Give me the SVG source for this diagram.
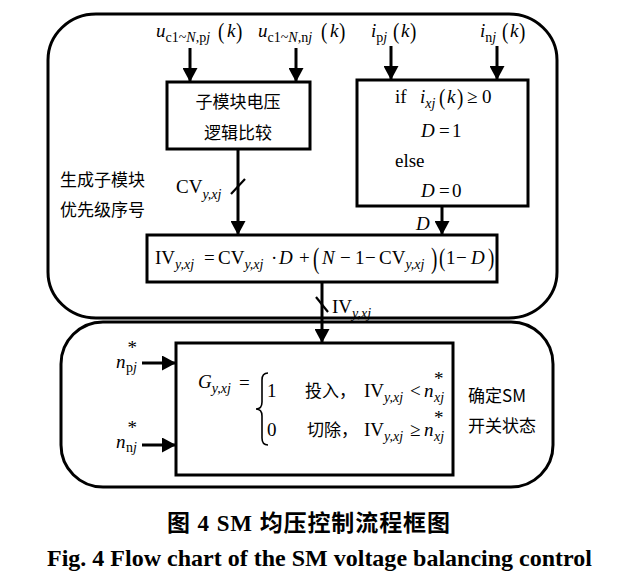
<svg xmlns="http://www.w3.org/2000/svg" width="629" height="582" viewBox="0 0 629 582">
<defs>
<marker id="ah" markerUnits="userSpaceOnUse" markerWidth="15" markerHeight="15" refX="14" refY="7.5" orient="auto" viewBox="0 0 15 15">
<path d="M0,0 L14,7.5 L0,15 z" fill="#000"/>
</marker>
<style>
.t{font-family:"Liberation Serif","Noto Sans CJK SC",serif;font-size:19px;fill:#000}
.c{font-family:"Noto Sans CJK SC",sans-serif;font-size:17px;fill:#000}
.i{font-style:italic}
.s{font-size:14px}
.box{fill:#fff;stroke:#000;stroke-width:3}
.outer{fill:none;stroke:#000;stroke-width:3}
.arr{stroke:#000;stroke-width:3;fill:none;marker-end:url(#ah)}
.sl{stroke:#000;stroke-width:2.2}
</style>
</defs>
<rect width="629" height="582" fill="#fff"/>

<g id="outer-top"><rect class="outer" x="48" y="14" width="509" height="304" rx="48" ry="46"/></g>
<g id="outer-bottom"><rect class="outer" x="61" y="322" width="492" height="165" rx="42" ry="42"/></g>

<g id="connectors">
<line class="arr" x1="190" y1="48" x2="190" y2="82"/>
<line class="arr" x1="296" y1="48" x2="296" y2="82"/>
<line class="arr" x1="391" y1="46" x2="391" y2="80"/>
<line class="arr" x1="497" y1="46" x2="497" y2="80"/>
<line class="arr" x1="238" y1="149" x2="238" y2="235"/>
<line class="sl" x1="231" y1="194" x2="245" y2="179"/>
<line class="arr" x1="442" y1="206" x2="442" y2="235"/>
<line class="arr" x1="322" y1="282" x2="322" y2="343"/>
<line class="sl" x1="316" y1="297" x2="328" y2="312"/>
<line class="arr" x1="142" y1="363" x2="176" y2="363"/>
<line class="arr" x1="142" y1="445" x2="176" y2="445"/>
</g>

<g id="in-u-pj">
<text class="t" y="37"><tspan class="i" x="156">u</tspan><tspan class="s" dy="5">c1~</tspan><tspan class="s i">N</tspan><tspan class="s">,p</tspan><tspan class="s i">j</tspan></text>
<text class="t" transform="translate(218,39) scale(1,1.25)">(</text>
<text class="t i" x="227" y="37">k</text>
<text class="t" transform="translate(236,39) scale(1,1.25)">)</text>
</g>
<g id="in-u-nj">
<text class="t" y="37"><tspan class="i" x="258">u</tspan><tspan class="s" dy="5">c1~</tspan><tspan class="s i">N</tspan><tspan class="s">,n</tspan><tspan class="s i">j</tspan></text>
<text class="t" transform="translate(321,39) scale(1,1.25)">(</text>
<text class="t i" x="330" y="37">k</text>
<text class="t" transform="translate(339,39) scale(1,1.25)">)</text>
</g>
<g id="in-i-pj">
<text class="t" y="37"><tspan class="i" x="371">i</tspan><tspan class="s" dy="5">p</tspan><tspan class="s i">j</tspan></text>
<text class="t" transform="translate(393,39) scale(1,1.25)">(</text>
<text class="t i" x="401" y="37">k</text>
<text class="t" transform="translate(410,39) scale(1,1.25)">)</text>
</g>
<g id="in-i-nj">
<text class="t" y="37"><tspan class="i" x="480">i</tspan><tspan class="s" dy="5">n</tspan><tspan class="s i">j</tspan></text>
<text class="t" transform="translate(502,39) scale(1,1.25)">(</text>
<text class="t i" x="510" y="37">k</text>
<text class="t" transform="translate(519,39) scale(1,1.25)">)</text>
</g>

<g id="compare">
<rect class="box" x="167" y="82" width="143" height="67"/>
<text class="c" x="238" y="108" text-anchor="middle">子模块电压</text>
<text class="c" x="238" y="139" text-anchor="middle">逻辑比较</text>
</g>

<g id="decide-D">
<rect class="box" x="357" y="80" width="171" height="126"/>
<text class="t" x="395" y="103">if</text>
<text class="t" y="103"><tspan class="i" x="420">i</tspan><tspan class="s i" dy="5">xj</tspan></text>
<text class="t" transform="translate(439,105) scale(1,1.25)">(</text>
<text class="t i" x="447" y="103">k</text>
<text class="t" transform="translate(457,105) scale(1,1.25)">)</text>
<text class="t" x="467" y="103">≥</text>
<text class="t" x="482" y="103">0</text>
<text class="t" y="137"><tspan class="i" x="421">D</tspan><tspan x="439">=</tspan><tspan x="452">1</tspan></text>
<text class="t" x="395" y="167">else</text>
<text class="t" y="197"><tspan class="i" x="421">D</tspan><tspan x="439">=</tspan><tspan x="452">0</tspan></text>
</g>

<g id="label-priority">
<text class="c" x="60" y="186" font-size="18">生成子模块</text>
<text class="c" x="60" y="216" font-size="18">优先级序号</text>
</g>
<g id="label-CV">
<text class="t" y="193"><tspan x="176">CV</tspan><tspan class="s i" dy="6">y,xj</tspan></text>
</g>
<g id="label-D"><text class="t i" x="416" y="230">D</text></g>

<g id="formula-IV">
<rect class="box" x="147" y="235" width="350" height="47"/>
<text class="t" y="264"><tspan x="155">IV</tspan><tspan class="s i" dy="5">y,xj</tspan></text>
<text class="t" x="204" y="264">=</text>
<text class="t" y="264"><tspan x="218">CV</tspan><tspan class="s i" dy="5">y,xj</tspan></text>
<text class="t" x="271" y="264">·</text>
<text class="t i" x="279" y="264">D</text>
<text class="t" x="299" y="264">+</text>
<text class="t" transform="translate(313,268) scale(1,1.6)">(</text>
<text class="t i" x="322" y="264">N</text>
<text class="t" x="340" y="264">−</text>
<text class="t" x="355" y="264">1</text>
<text class="t" x="365" y="264">−</text>
<text class="t" y="264"><tspan x="379">CV</tspan><tspan class="s i" dy="5">y,xj</tspan></text>
<text class="t" transform="translate(431,268) scale(1,1.6)">)</text>
<text class="t" transform="translate(439,266) scale(1,1.3)">(</text>
<text class="t" x="446" y="264">1</text>
<text class="t" x="456" y="264">−</text>
<text class="t i" x="471" y="264">D</text>
<text class="t" transform="translate(488,266) scale(1,1.3)">)</text>
</g>

<g id="label-IV">
<text class="t" y="313"><tspan x="332">IV</tspan><tspan class="s i" dy="5">y,xj</tspan></text>
</g>

<g id="label-npj">
<text class="t i" x="116" y="368">n</text>
<text class="t" x="127.5" y="354" font-size="15">*</text>
<text class="s" y="372" style="font-family:'Liberation Serif',serif"><tspan x="126">p</tspan><tspan class="i">j</tspan></text>
</g>
<g id="label-nnj">
<text class="t i" x="116" y="448">n</text>
<text class="t" x="127.5" y="434" font-size="15">*</text>
<text class="s" y="452" style="font-family:'Liberation Serif',serif"><tspan x="126">n</tspan><tspan class="i">j</tspan></text>
</g>

<g id="gate-G">
<rect class="box" x="176" y="343" width="277" height="132"/>
<text class="t" y="388"><tspan class="i" x="198">G</tspan><tspan class="s i" dy="5">y,xj</tspan></text>
<text class="t" x="239" y="389">=</text>
<path d="M268,373 Q262,373 262,380 L262,402 Q262,409 256,409 Q262,409 262,416 L262,438 Q262,445 268,445" fill="none" stroke="#000" stroke-width="1.6"/>
<text class="t" x="267" y="397">1</text>
<text class="c" x="305" y="397">投入，</text>
<text class="t" y="397"><tspan x="364">IV</tspan><tspan class="s i" dy="5">y,xj</tspan></text>
<text class="t" x="410" y="397">&lt;</text>
<text class="t i" x="424" y="397">n</text>
<text class="t" x="434" y="385" font-size="15">*</text>
<text class="s i" x="434" y="402" style="font-family:'Liberation Serif',serif">xj</text>
<text class="t" x="267" y="436">0</text>
<text class="c" x="307" y="436">切除，</text>
<text class="t" y="436"><tspan x="364">IV</tspan><tspan class="s i" dy="5">y,xj</tspan></text>
<text class="t" x="410" y="436">≥</text>
<text class="t i" x="424" y="436">n</text>
<text class="t" x="434" y="424" font-size="15">*</text>
<text class="s i" x="434" y="441" style="font-family:'Liberation Serif',serif">xj</text>
</g>

<g id="label-state">
<text class="c" x="468" y="402">确定SM</text>
<text class="c" x="468" y="432">开关状态</text>
</g>

<g id="caption">
<text x="167" y="531" textLength="283" lengthAdjust="spacing" style="font-family:'Liberation Serif','Noto Sans CJK SC',serif;font-size:23px;font-weight:bold">图 4 SM 均压控制流程框图</text>
<text x="47" y="566" textLength="545" lengthAdjust="spacingAndGlyphs" style="font-family:'Liberation Serif',serif;font-size:23px;font-weight:bold">Fig. 4 Flow chart of the SM voltage balancing control</text>
</g>
</svg>
